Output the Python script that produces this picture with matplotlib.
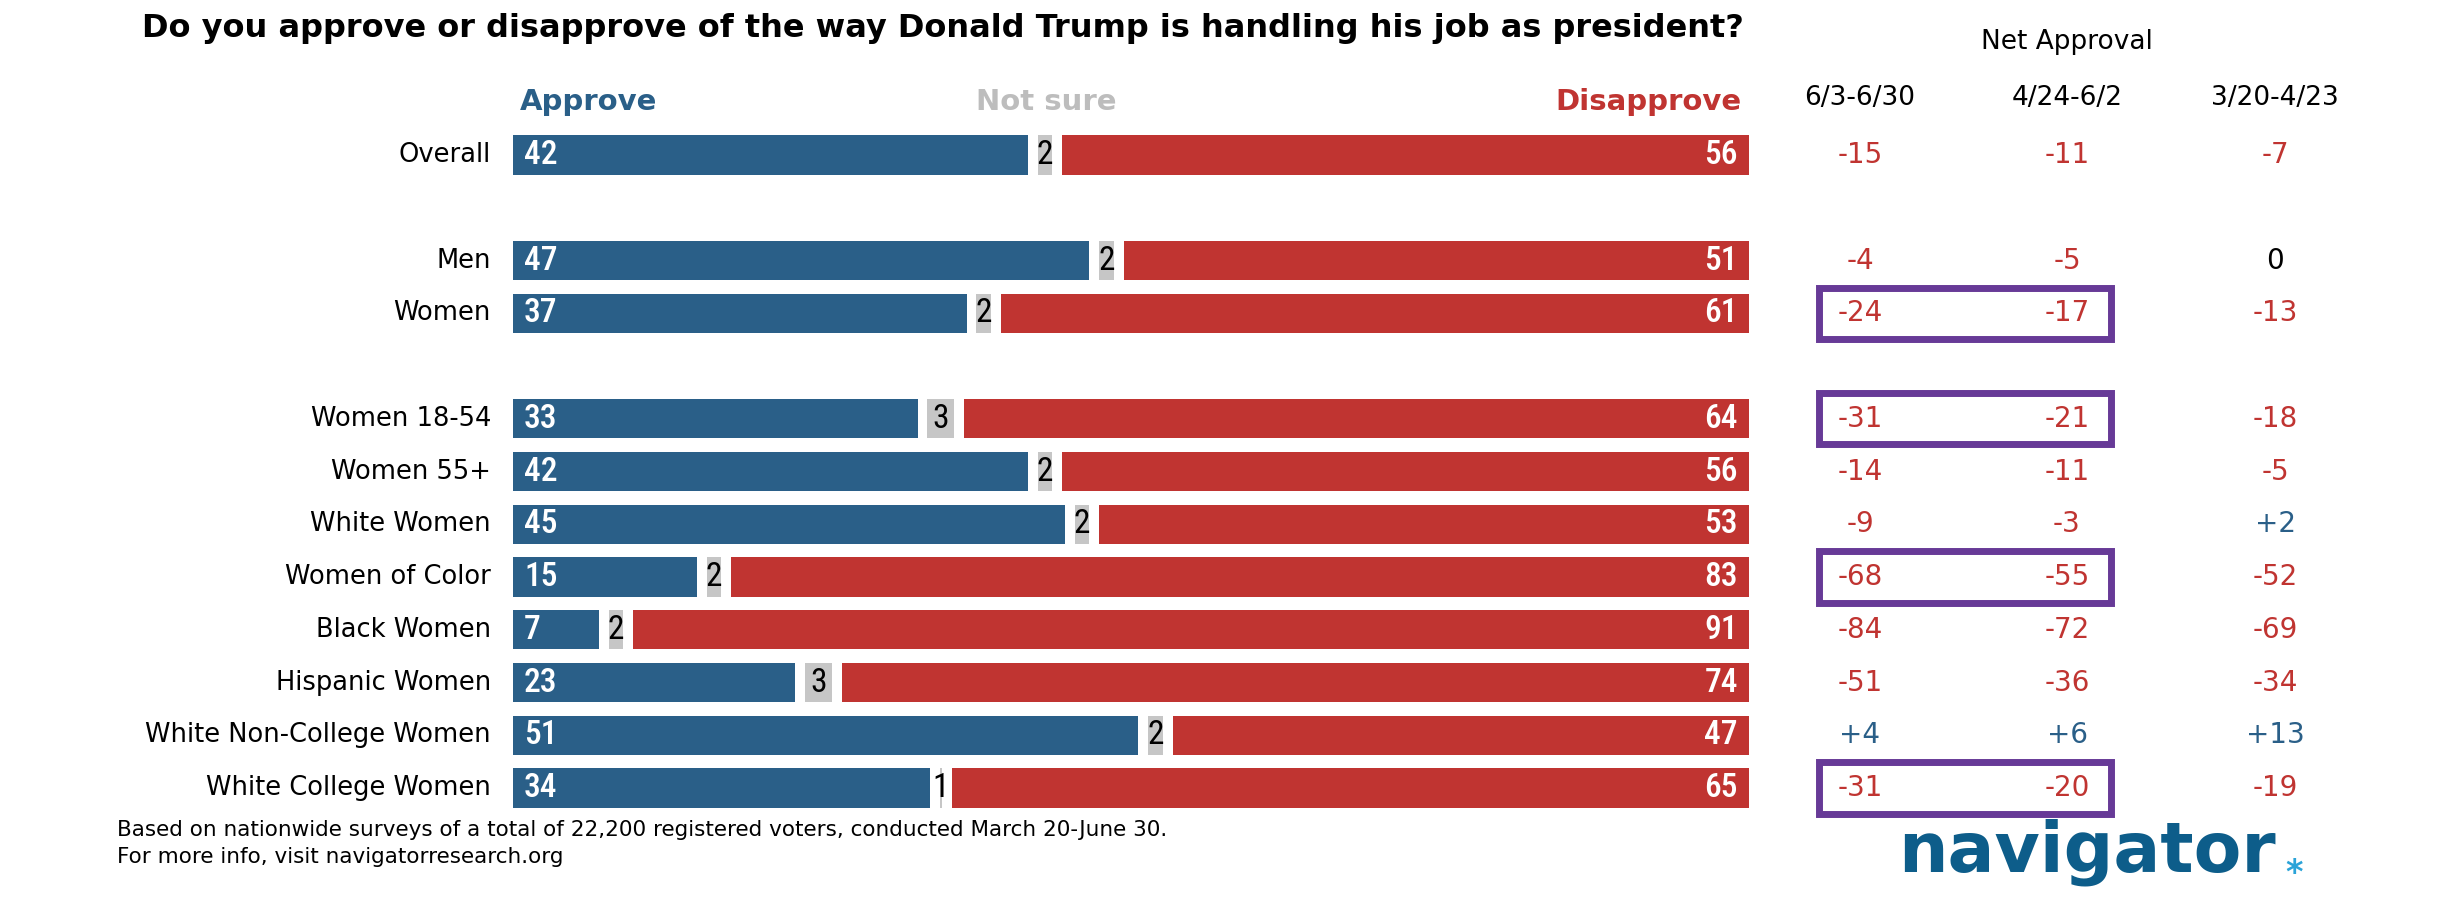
import numpy as np
import matplotlib
matplotlib.use('Agg')
import matplotlib.pyplot as plt
from matplotlib import font_manager
from matplotlib.patches import Rectangle

# data
groups = ['Overall', 'Men', 'Women', 'Women 18-54', 'Women 55+', 'White Women',
          'Women of Color', 'Black Women', 'Hispanic Women',
          'White Non-College Women', 'White College Women']
approve = [42, 47, 37, 33, 42, 45, 15, 7, 23, 51, 34]
not_sure = [2, 2, 2, 3, 2, 2, 2, 2, 3, 2, 1]
disapprove = [56, 51, 61, 64, 56, 53, 83, 91, 74, 47, 65]

periods = ['6/3-6/30', '4/24-6/2', '3/20-4/23']
net_jun = [-15, -4, -24, -31, -14, -9, -68, -84, -51, 4, -31]
net_may = [-11, -5, -17, -21, -11, -3, -55, -72, -36, 6, -20]
net_apr = [-7, 0, -13, -18, -5, 2, -52, -69, -34, 13, -19]
net_cols = [net_jun, net_may, net_apr]

highlight = ['Women', 'Women 18-54', 'Women of Color', 'White College Women']
breaks_after = ['Overall', 'Women']

BLUE = '#2a5f88'
RED = '#c03431'
GRAY = '#c6c6c6'
PURPLE = '#673a97'

names = {f.name for f in font_manager.fontManager.ttflist}
def pick(*cands):
    for c in cands:
        if c in names:
            return c
    return 'DejaVu Sans'

F_TXT = 'DejaVu Sans'
F_NUM = pick('Roboto Condensed', 'Liberation Sans Narrow', 'Open Sans Condensed')

# row positions with blank rows between the blocks
ypos = []
y = 0
for g in groups:
    ypos.append(y)
    y += 1
    if g in breaks_after:
        y += 1

W, H = 2442, 906
fig = plt.figure(figsize=(W / 100, H / 100), dpi=100)
ax = fig.add_axes([0, 0, 1, 1])
px_unit = 12.26          # pixels per percentage point
x0 = 513                 # left edge of the bars in pixels
ax.set_xlim(-x0 / px_unit, (W - x0) / px_unit)
row_px = 52.75
y0 = 155
ax.set_ylim((H - y0) / row_px, -y0 / row_px)
ax.axis('off')

gap = 0.8
bh = 0.74
for i, g in enumerate(groups):
    a, n, d = approve[i], not_sure[i], disapprove[i]
    yy = ypos[i]
    ax.barh(yy, a, left=0, height=bh, color=BLUE)
    ax.barh(yy, n - gap, left=a + gap, height=bh, color=GRAY)
    ax.barh(yy, d, left=a + n + gap, height=bh, color=RED)
    ax.text(0.9, yy, str(a), color='white', fontsize=24, family=F_NUM,
            weight='medium', ha='left', va='center')
    ax.text(a + (n + gap) / 2, yy, str(n), color='black', fontsize=24,
            family=F_NUM, ha='center', va='center')
    ax.text(a + n + gap + d - 0.9, yy, str(d), color='white', fontsize=24,
            family=F_NUM, weight='medium', ha='right', va='center')
    ax.text(-1.8, yy, g, fontsize=18.5, family=F_TXT, ha='right', va='center')

# legend words above the bars
ax.text(0.6, -1.0, 'Approve', color=BLUE, fontsize=21, family=F_TXT,
        weight='bold', ha='left', va='center')
ax.text(43.5, -1.0, 'Not sure', color='#bdbdbd', fontsize=21, family=F_TXT,
        weight='bold', ha='center', va='center')
ax.text(100.2, -1.0, 'Disapprove', color=RED, fontsize=21, family=F_TXT,
        weight='bold', ha='right', va='center')

# net approval table
col_x = [(1860 - x0) / px_unit, (2067 - x0) / px_unit, (2275 - x0) / px_unit]
ax.text(col_x[1], -2.14, 'Net Approval', fontsize=19, family=F_TXT, ha='center', va='center')
for cx, lab, vals in zip(col_x, periods, net_cols):
    ax.text(cx, -1.08, lab, fontsize=19, family=F_TXT, ha='center', va='center')
    for i, v in enumerate(vals):
        if v > 0:
            s, c = '+%d' % v, BLUE
        elif v < 0:
            s, c = '%d' % v, RED
        else:
            s, c = '0', 'black'
        ax.text(cx, ypos[i], s, color=c, fontsize=20, family=F_TXT, ha='center', va='center')

bx0 = (1818.5 - x0) / px_unit
bx1 = (2110.5 - x0) / px_unit
for g in highlight:
    yy = ypos[groups.index(g)]
    ax.add_patch(Rectangle((bx0, yy - 0.485), bx1 - bx0, 0.97, fill=False,
                           edgecolor=PURPLE, linewidth=5, clip_on=False))

fig.text(142 / W, 1 - 28 / H,
         'Do you approve or disapprove of the way Donald Trump is handling his job as president?',
         fontsize=23, family=F_TXT, weight='heavy', ha='left', va='center')
fig.text(117 / W, 1 - 830 / H,
         'Based on nationwide surveys of a total of 22,200 registered voters, conducted March 20-June 30.',
         fontsize=15.5, family=F_TXT, ha='left', va='center')
fig.text(117 / W, 1 - 857 / H, 'For more info, visit navigatorresearch.org',
         fontsize=15.5, family=F_TXT, ha='left', va='center')

# logo
fig.text(1898 / W, 1 - 872 / H, 'navigator', fontsize=50, family=F_TXT,
         weight='bold', color='#0d5d8a', ha='left', va='baseline')
fig.text(2294 / W, 1 - 874 / H, '*', fontsize=24, family=F_TXT, weight='bold',
         color='#2aa3d8', ha='center', va='center')

fig.savefig('out.png', dpi=100)
